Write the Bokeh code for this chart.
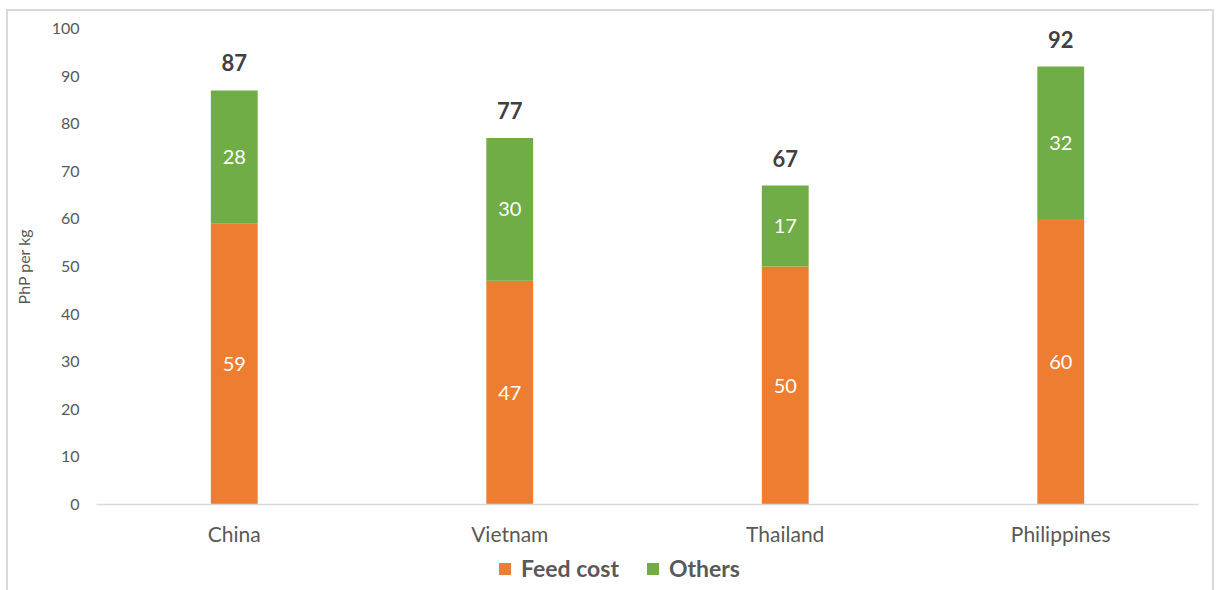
from bokeh.plotting import figure
from bokeh.layouts import column
from bokeh.models import ColumnDataSource, FactorRange, Range1d, Legend, LegendItem, FixedTicker
from bokeh.core.properties import value
from bokeh.embed import file_html
from bokeh.resources import INLINE

countries = ["China", "Vietnam", "Thailand", "Philippines"]
feed_cost = [59, 47, 50, 60]
others = [28, 30, 17, 32]
totals = [87, 77, 67, 92]
y_ticks = [0, 10, 20, 30, 40, 50, 60, 70, 80, 90, 100]
series_names = ["Feed cost", "Others"]

FONT = "Lato"
ORANGE = "#ED7D31"
GREEN = "#70AD47"
GREY = "#595959"

src = ColumnDataSource(dict(
    country=countries,
    feed=feed_cost,
    others=others,
    total=totals,
    feed_mid=[f / 2 for f in feed_cost],
    oth_mid=[f + o / 2 for f, o in zip(feed_cost, others)],
    feed_lbl=[str(v) for v in feed_cost],
    oth_lbl=[str(v) for v in others],
    tot_lbl=[str(v) for v in totals],
))

p = figure(width=1204, height=541, x_range=FactorRange(*countries, range_padding=0),
           y_range=Range1d(0, 100), output_backend="svg", toolbar_location=None,
           min_border_left=88, min_border_right=14, min_border_top=17, min_border_bottom=48)
p.outline_line_color = None
p.xgrid.grid_line_color = None
p.ygrid.grid_line_color = None

r = p.vbar_stack(["feed", "others"], x="country", width=0.17, source=src,
                 color=[ORANGE, GREEN], line_color=None)

p.text(x="country", y="feed_mid", text="feed_lbl", source=src, text_color="white",
       text_font=value(FONT), text_font_size="20px", text_align="center", text_baseline="middle")
p.text(x="country", y="oth_mid", text="oth_lbl", source=src, text_color="white",
       text_font=value(FONT), text_font_size="20px", text_align="center", text_baseline="middle")
p.text(x="country", y="total", text="tot_lbl", source=src, text_color="#404040",
       text_font=value(FONT), text_font_size="22px", text_font_style="bold",
       text_align="center", text_baseline="bottom", y_offset=-19)

# axes
p.yaxis.ticker = FixedTicker(ticks=y_ticks)
p.yaxis.axis_line_color = None
p.yaxis.major_tick_line_color = None
p.yaxis.minor_tick_line_color = None
p.yaxis.major_label_text_font = FONT
p.yaxis.major_label_text_font_size = "16px"
p.yaxis.major_label_text_color = GREY
p.yaxis.major_label_standoff = 11
p.yaxis.axis_label = "PhP per kg"
p.yaxis.axis_label_text_font = FONT
p.yaxis.axis_label_text_font_size = "16px"
p.yaxis.axis_label_text_font_style = "normal"
p.yaxis.axis_label_text_color = GREY
p.yaxis.axis_label_standoff = 16

p.xaxis.axis_line_color = "#D9D9D9"
p.xaxis.axis_line_width = 1.5
p.xaxis.major_tick_line_color = None
p.xaxis.minor_tick_line_color = None
p.xaxis.major_label_text_font = FONT
p.xaxis.major_label_text_font_size = "21px"
p.xaxis.major_label_text_color = GREY
p.xaxis.major_label_standoff = 10

# legend strip (separate small figure below the chart)
leg = figure(width=1204, height=38, x_range=Range1d(0, 1), y_range=Range1d(0, 1),
             output_backend="svg", toolbar_location=None,
             x_axis_type=None, y_axis_type=None, min_border=0)
leg.outline_line_color = None
leg.xgrid.grid_line_color = None
leg.ygrid.grid_line_color = None
lr = [leg.vbar(x=[-5], top=[-5], bottom=[-6], width=0.1, color=c, line_color=None)
      for c in (ORANGE, GREEN)]
legend = Legend(items=[LegendItem(label=n, renderers=[rr]) for n, rr in zip(series_names, lr)],
                orientation="horizontal", location=(401, 8),
                label_text_font=FONT, label_text_font_size="23px", label_text_font_style="bold",
                label_text_color=GREY, glyph_width=15, glyph_height=15, label_standoff=9,
                spacing=26, padding=0, margin=0, border_line_color=None,
                background_fill_alpha=0)
leg.add_layout(legend, "center")

layout = column(p, leg, spacing=0,
                styles={"margin-left": "6px", "margin-top": "9px",
                        "border-left": "2px solid #D9D9D9", "border-top": "2px solid #D9D9D9",
                        "border-right": "2px solid #D9D9D9"})

open("out.html", "w").write(file_html(layout, INLINE))
